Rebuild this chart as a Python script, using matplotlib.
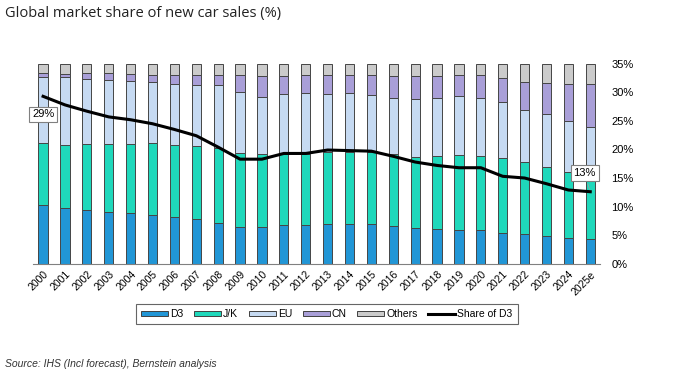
import matplotlib
matplotlib.use("Agg")
import matplotlib.pyplot as plt
from matplotlib.patches import Patch
from matplotlib.lines import Line2D
import numpy as np

# ---- data (share of global new car sales, % of 100) ----
years = ["2000", "2001", "2002", "2003", "2004", "2005", "2006", "2007", "2008",
         "2009", "2010", "2011", "2012", "2013", "2014", "2015", "2016", "2017",
         "2018", "2019", "2020", "2021", "2022", "2023", "2024", "2025e"]

d3 = [29.3, 27.8, 26.7, 25.7, 25.2, 24.5, 23.5, 22.4, 20.4, 18.3, 18.3, 19.3, 19.3,
      19.9, 19.8, 19.7, 18.8, 17.8, 17.2, 16.8, 16.8, 15.3, 15.0, 14.0, 12.9, 12.6]
jk = [30.9, 31.7, 33.0, 34.0, 34.6, 35.8, 36.0, 36.6, 37.3, 36.9, 36.4, 35.7, 35.7,
      35.9, 36.2, 36.0, 35.9, 35.7, 36.5, 37.4, 37.0, 37.7, 35.7, 34.5, 32.8, 32.9]
eu = [33.3, 33.7, 32.8, 32.1, 31.4, 30.4, 30.5, 30.5, 31.5, 30.5, 28.8, 29.7, 30.2,
      29.0, 29.5, 28.8, 28.3, 28.7, 29.0, 29.8, 28.9, 27.7, 26.1, 26.3, 25.6, 23.0]
cn = [1.7, 1.6, 2.7, 3.4, 3.5, 3.8, 4.3, 5.0, 5.3, 8.6, 10.2, 9.0, 9.0,
      9.5, 8.8, 9.8, 11.0, 11.6, 11.1, 10.3, 11.5, 12.1, 14.0, 15.7, 18.7, 21.2]
others = [4.8, 5.2, 4.8, 4.8, 5.3, 5.5, 5.7, 5.5, 5.5, 5.7, 6.3, 6.3, 5.8,
          5.7, 5.7, 5.7, 6.0, 6.2, 6.2, 5.7, 5.8, 7.2, 9.2, 9.5, 10.0, 10.3]

# line uses the same D3 share, shown against the 0-35% axis
share_d3 = d3

series = [("D3", d3, "#2196d6"), ("J/K", jk, "#1fd8bb"), ("EU", eu, "#c6daf2"),
          ("CN", cn, "#a99fd8"), ("Others", others, "#cbcbcb")]

plt.rcParams['font.family'] = ['Liberation Sans Narrow', 'Liberation Sans', 'DejaVu Sans']

fig = plt.figure(figsize=(6.81, 3.83), dpi=100)
ax = fig.add_axes([0.0485, 0.3115, 0.833, 0.522])

x = np.arange(len(years))
bottom = np.zeros(len(years))
for name, vals, col in series:
    ax.bar(x, vals, 0.42, bottom=bottom, color=col, edgecolor="#454545", linewidth=0.7)
    bottom += np.array(vals)

ax.set_ylim(0, 100)
ax.set_xlim(-0.46, 25.46)
ax.set_yticks([])
for s in ["top", "left", "right"]:
    ax.spines[s].set_visible(False)
ax.spines["bottom"].set_color("#808080")
ax.set_xticks(x)
ax.set_xticklabels(years, rotation=45, ha="right", rotation_mode="anchor", fontsize=7.5)
ax.tick_params(axis="x", length=0, pad=4)

ax2 = ax.twinx()
ax2.plot(x, share_d3, color="black", lw=2.2, solid_joinstyle="round")
ax2.set_ylim(0, 35)
ax2.set_yticks(np.arange(0, 36, 5))
ax2.set_yticklabels([f"{v}%" for v in range(0, 36, 5)], fontsize=8)
ax2.tick_params(axis="y", length=0, pad=8)
for s in ["top", "left", "right", "bottom"]:
    ax2.spines[s].set_visible(False)

box = dict(boxstyle="square,pad=0.25", fc="white", ec="#808080", lw=0.8)
ax2.annotate(f"{share_d3[0]:.0f}%", xy=(0, share_d3[0]), xytext=(0, -13),
             textcoords="offset points", ha="center", va="center", fontsize=8,
             bbox=box)
ax2.annotate(f"{share_d3[-1]:.0f}%", xy=(25, share_d3[-1]), xytext=(-4, 13.5),
             textcoords="offset points", ha="center", va="center", fontsize=8,
             bbox=box, arrowprops=dict(arrowstyle="-", color="#a0a0a0", lw=0.6))

handles = [Patch(facecolor=c, edgecolor="#404040", linewidth=0.7, label=n) for n, _, c in series]
handles.append(Line2D([0], [0], color="black", lw=2.2, label="Share of D3"))
leg = fig.legend(handles=handles, loc="center", bbox_to_anchor=(0.48, 0.18), ncol=6,
                 fontsize=7.5, frameon=True, fancybox=False, edgecolor="#404040",
                 handlelength=2.6, handleheight=0.45, handletextpad=0.2,
                 columnspacing=1.0, borderpad=0.5)
leg.get_frame().set_linewidth(0.8)

fig.text(0.008, 0.965, "Global market share of new car sales (%)", fontsize=10.5,
         family=["Open Sans", "DejaVu Sans"], color="#222222", va="center")
fig.text(0.008, 0.05, "Source: IHS (Incl forecast), Bernstein analysis", fontsize=7.5,
         style="italic", color="#333333", va="center")

fig.savefig("out.png", dpi=100)
